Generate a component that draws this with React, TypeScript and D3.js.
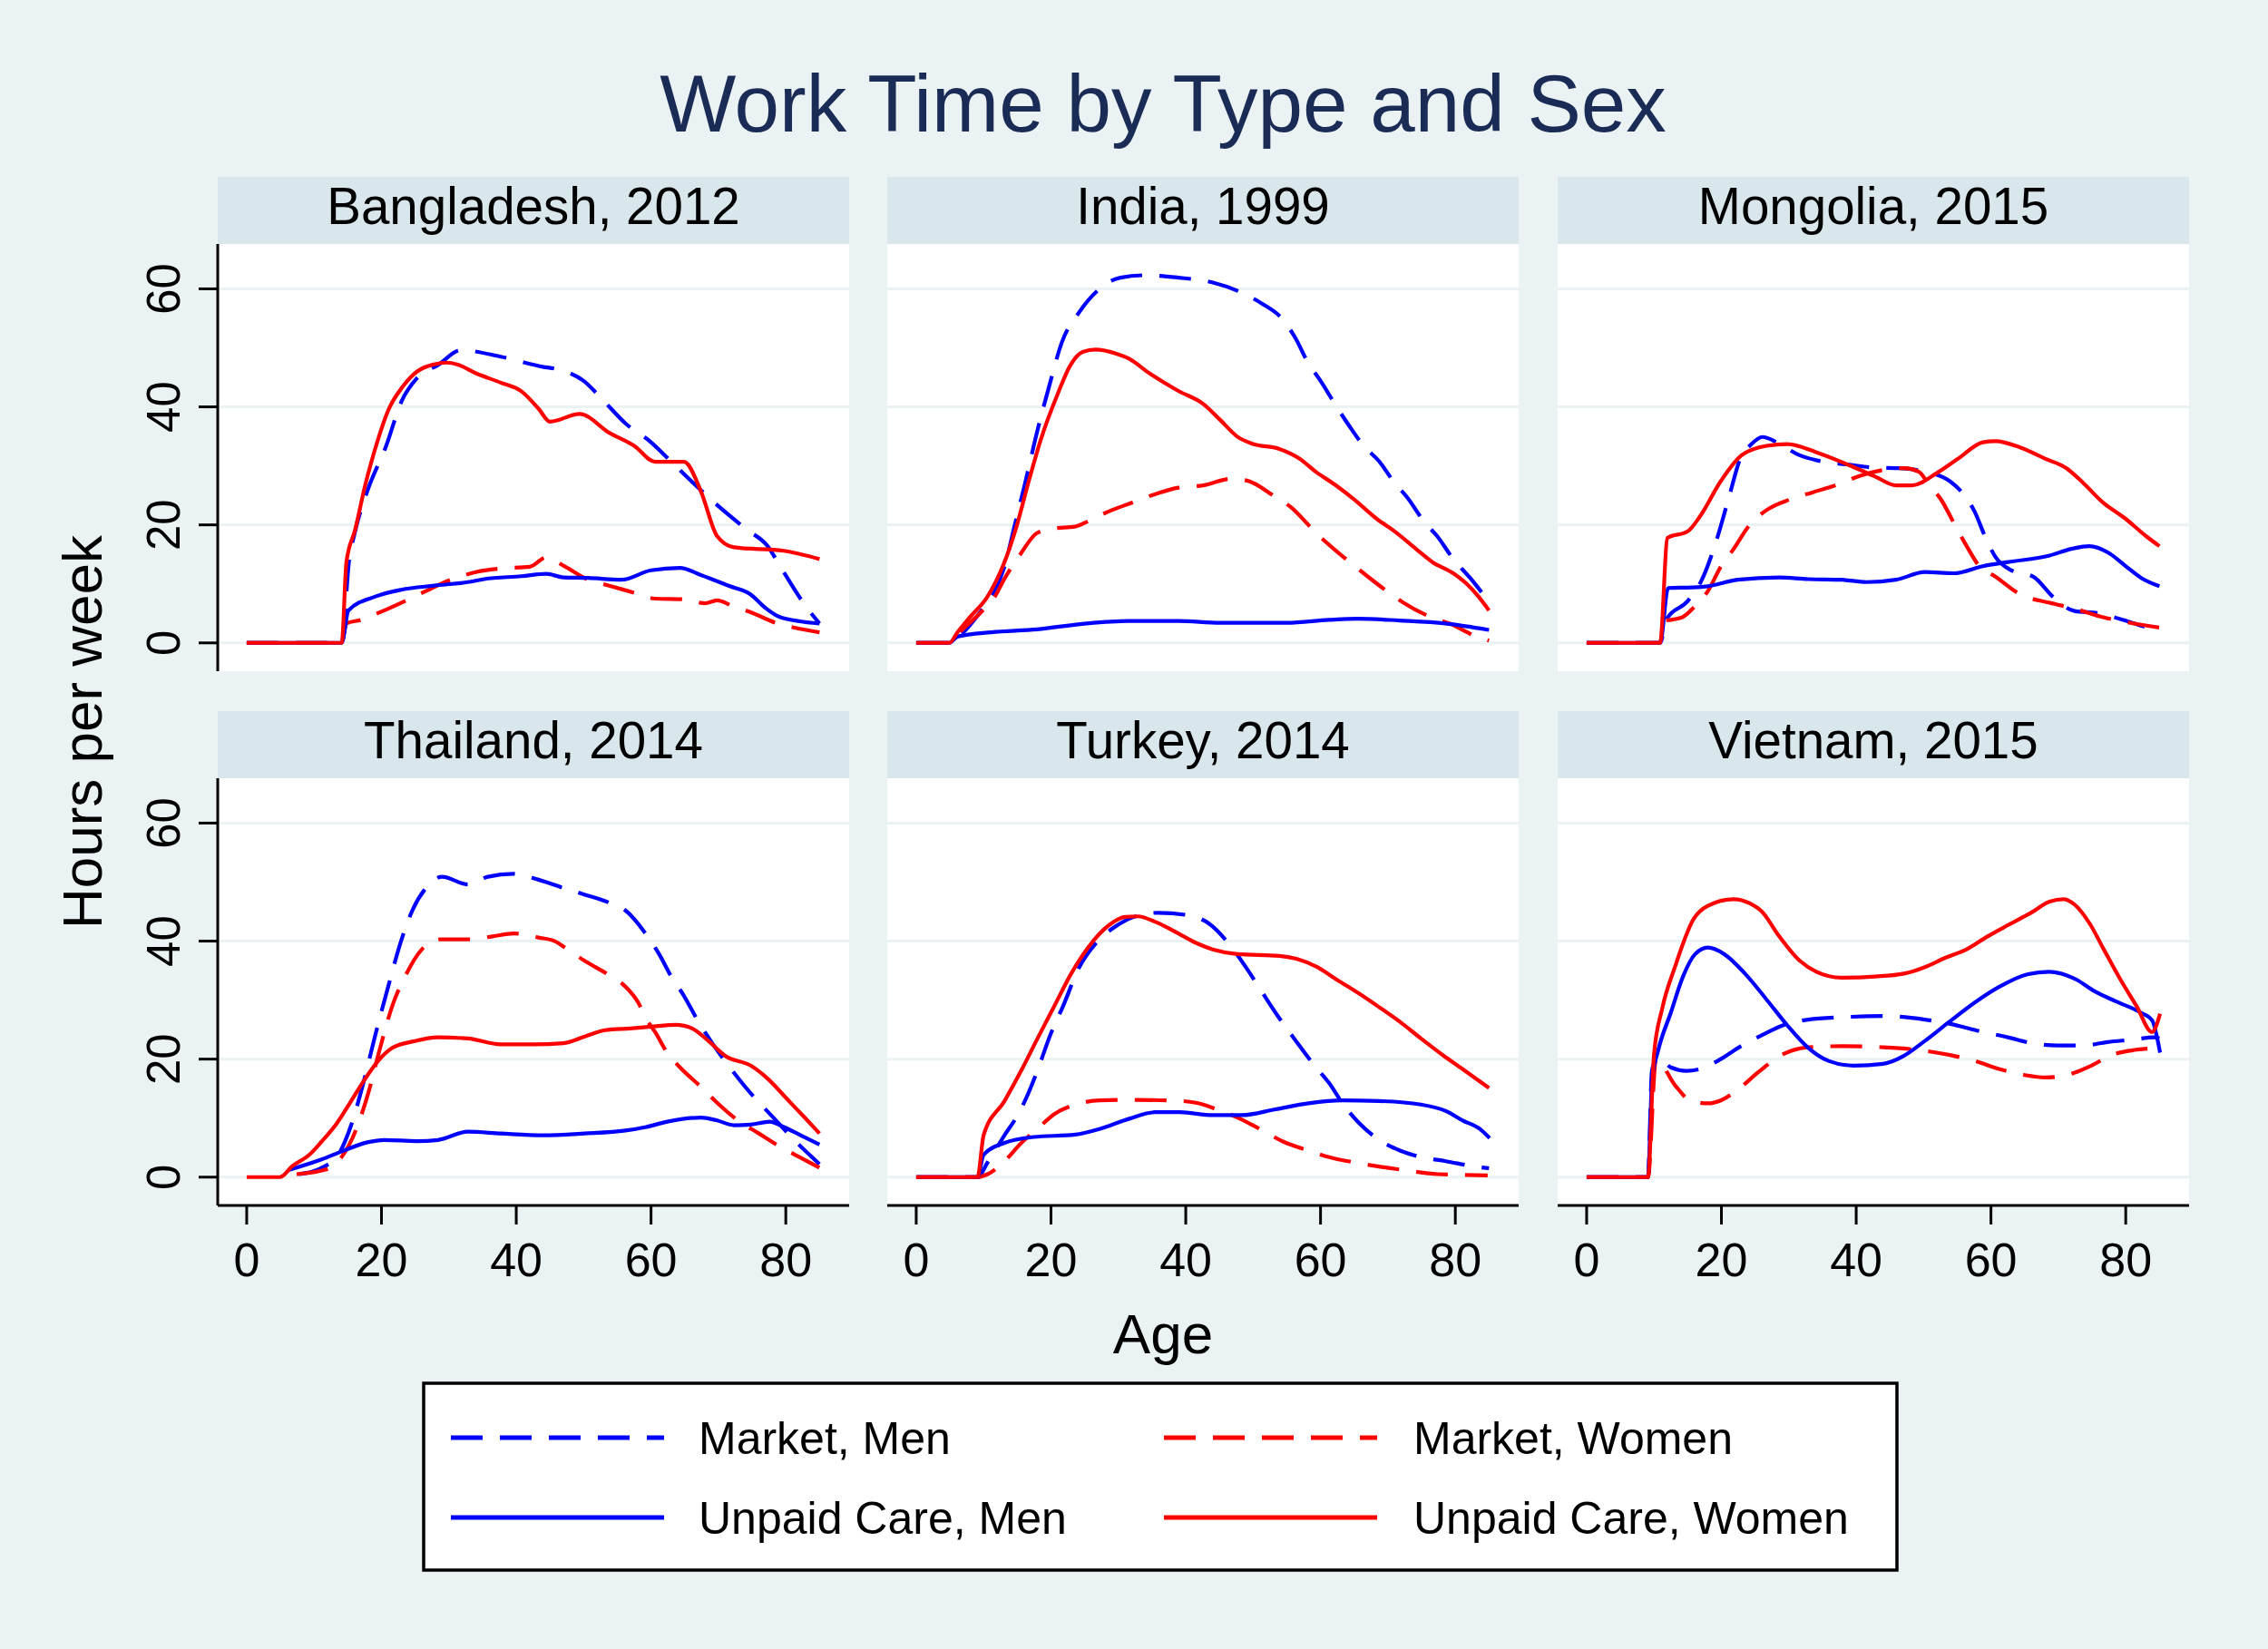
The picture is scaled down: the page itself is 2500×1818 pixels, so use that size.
// Work Time by Type and Sex — small multiples of hours per week by age.
import { useEffect } from "react";
import * as d3 from "d3";

type Pt = [number, number];

// ─── Data (age, hours per week) ───────────────────────────────────────────────

const panelTitles = [
  "Bangladesh, 2012",
  "India, 1999",
  "Mongolia, 2015",
  "Thailand, 2014",
  "Turkey, 2014",
  "Vietnam, 2015",
];

const seriesNames = ["Market, Men", "Market, Women", "Unpaid Care, Men", "Unpaid Care, Women"];

const bgdMarketMen: Pt[] = [[0,0],[14.1,0],[15.2,14],[16,18.5],[17.9,25.7],[20.7,33.4],[23,41],[25.3,44.9],[28.4,47.1],[31.8,49.6],[37.7,48.5],[43.9,46.8],[46.4,46.3],[50,44.4],[52.5,41.6],[56.2,37.2],[60,34],[63,30.7],[68.6,24.6],[74.2,19.2],[77.3,16.4],[79.1,13.1],[83.1,6],[85,3.3]];
const bgdMarketWomen: Pt[] = [[0,0],[14.1,0],[14.8,3.3],[17,3.9],[19.8,5.2],[23.5,7.1],[26.6,8.8],[30.3,10.7],[34,12],[37.7,12.6],[42,12.9],[44.5,14.5],[47,13.1],[50.7,10.7],[53.8,9.7],[57.5,8.5],[60.6,7.5],[64.9,7.4],[68,6.7],[69.8,7.2],[72,6.3],[74.8,5.2],[78.5,3.4],[81.6,2.5],[85,1.8]];
const bgdCareMen: Pt[] = [[0,0],[14.1,0],[15.1,5.5],[19.2,7.9],[22.9,9],[27.8,9.7],[32.8,10.3],[35.2,10.8],[40.8,11.3],[44.5,11.7],[47,11.1],[50.7,11],[55.6,10.7],[60,12.3],[64.3,12.7],[67.4,11.5],[71.7,9.6],[74.8,8.2],[76.9,6],[79.1,4.4],[85,3.3]];
const bgdCareWomen: Pt[] = [[0,0],[14.1,0],[14.8,13.7],[16.1,19.2],[17.6,26.8],[19.2,33.4],[21,39.4],[23.2,43.5],[25.3,46],[27.8,47.2],[29.7,47.5],[31.2,47.2],[34,45.7],[37.7,44.1],[40.8,42.6],[43.3,39.7],[45,37.5],[49.4,38.8],[53.8,35.6],[57.5,33.4],[60.6,30.7],[64.9,30.7],[67.4,25.7],[69.8,18.1],[72.3,16.2],[79.7,15.6],[85,14.2]];

const indMarketMen: Pt[] = [[0,0],[4.9,0],[6.8,1.6],[9.9,5.8],[11.4,8.2],[13,12.6],[14.8,20.8],[16.1,26.8],[17.9,35.6],[19.8,43.8],[21.6,50.9],[24.1,55.9],[27.2,60],[30.3,61.9],[34,62.3],[38.9,61.9],[43.9,61.1],[48.2,59.4],[51.3,57.5],[54.4,54.8],[56.2,51.8],[58.1,47.6],[60,44.4],[62.4,40],[64.3,36.7],[66.4,33.4],[68.6,30.9],[71,27.1],[72.9,24.6],[75.4,20.5],[77.3,18.1],[79.7,14.2],[82.2,11],[84.7,7.4]];
const indMarketWomen: Pt[] = [[0,0],[4.9,0],[6.8,2.2],[9.6,5.2],[11.7,7.9],[13,10.7],[15.5,15.1],[17.9,18.6],[20.4,19.4],[23.5,19.7],[25.3,20.5],[28.4,22.2],[32.1,23.8],[35.2,25.1],[38.9,26.3],[42.6,26.7],[46.7,27.8],[49.1,27.5],[53.2,24.8],[55.6,23],[58.7,19.4],[60.6,17.3],[64,14],[66.4,11.8],[69.8,8.8],[72.3,6.8],[76.3,4.4],[79.1,3.3],[83.1,1.1],[85,0.4]];
const indCareMen: Pt[] = [[0,0],[4.9,0],[6.2,1.1],[11.1,1.8],[17.9,2.3],[25.3,3.3],[31.5,3.7],[38.9,3.7],[45.1,3.4],[55,3.4],[61.2,3.9],[65.5,4.1],[71.7,3.8],[78.5,3.3],[85,2.2]];
const indCareWomen: Pt[] = [[0,0],[4.9,0],[6.2,1.9],[8,4.4],[10.5,7.7],[13,13.4],[14.8,19.4],[16.7,27.4],[18.5,34.5],[21,42.2],[22.9,47.1],[24.7,49.3],[26.6,49.7],[29.7,49],[31.5,48.2],[34.6,45.7],[38.9,42.7],[42.6,40.5],[45.1,37.8],[47.6,35],[50,33.7],[53.8,32.9],[56.9,31.2],[59.3,29],[62.4,26.6],[64.9,24.4],[68.6,20.8],[71,18.9],[74.2,15.9],[76.6,13.7],[79.7,11.8],[81.6,10.1],[83.4,7.9],[85,5.5]];

const mngMarketMen: Pt[] = [[0,0],[10.9,0],[11.9,4.1],[15,7.1],[17.1,10.7],[19.3,17.5],[21.1,24.6],[23,31.8],[24.2,33.4],[26.1,34.9],[28.2,34],[31.6,31.8],[34.7,30.8],[39,30.2],[42.8,29.7],[46.5,29.6],[50.2,29],[53.9,27.4],[55.7,25.5],[57.6,22.2],[59.1,18.1],[60.7,14.5],[63.2,12.2],[66.3,11.2],[69.3,7.7],[72.4,5.4],[76.1,5],[79.9,3.8],[83,2.7],[85,2.3]];
const mngMarketWomen: Pt[] = [[0,0],[10.9,0],[11.6,3.8],[12.5,3.9],[14.3,4.4],[15.9,6],[18,8.8],[19.9,12.9],[21.8,15.9],[24.2,20],[26.7,22.5],[30.4,24.4],[33.5,25.5],[37.2,26.8],[40.3,28.2],[44,29.3],[47.1,29.6],[49.3,29],[50.8,26.8],[52.7,24.1],[54.5,20.3],[56.4,16.4],[58.2,13.1],[60.7,11.2],[64.4,8.2],[68.7,6.8],[72.4,5.8],[76.8,4.3],[81.1,3.3],[85,2.6]];
const mngCareMen: Pt[] = [[0,0],[10.9,0],[12.1,9.3],[15.6,9.4],[18,9.6],[22.4,10.7],[28.6,11.1],[32.9,10.8],[37.8,10.7],[41.5,10.3],[45.9,10.7],[50.2,12],[54.5,11.8],[58.8,13],[62.5,13.7],[68.7,14.8],[71.8,15.9],[74.6,16.4],[77.4,15.3],[79.9,13.1],[82.3,11],[85,9.6]];
const mngCareWomen: Pt[] = [[0,0],[10.9,0],[12,17.8],[15,18.9],[16.8,21.4],[19.9,27.4],[23,31.8],[26.7,33.4],[29.8,33.7],[34.1,32.3],[39,30.1],[42.8,28.2],[45.9,26.7],[48.3,26.7],[52,28.8],[55.1,31.2],[58.8,34],[60.7,34.2],[64.4,33.1],[68.1,31.2],[71.2,29.6],[73.7,27.1],[76.6,23.8],[79.9,21.1],[83,18.1],[85,16.4]];

const thaMarketMen: Pt[] = [[7.7,0.5],[11.7,1.9],[13.6,3.8],[15.5,8.8],[17.3,15.9],[19.2,24.6],[21,32.3],[22.9,40],[24.7,45.5],[26.6,49],[29,50.9],[32.8,49.6],[35.8,50.9],[39.6,51.4],[43.3,50.4],[47,49],[50.1,47.9],[53.8,46.5],[56.2,45.2],[59.3,41.1],[61.2,37.8],[63,34],[64.9,30.7],[66.8,26.8],[69.2,22.5],[71.7,18.6],[74.8,14.2],[77.9,10.4],[81,6.6],[85,2.2]];
const thaMarketWomen: Pt[] = [[7.4,0.5],[12.1,1.4],[14.2,3.6],[16.1,7.7],[17.9,13.7],[19.8,21.9],[21.6,29],[23.5,34],[26,38.6],[28.8,40.3],[32.8,40.3],[36.5,40.8],[39.6,41.3],[43.3,40.6],[45.7,40],[47.6,38.6],[50.1,36.7],[53.8,34.2],[56.2,32.3],[58.1,29.6],[59.3,26.8],[60.6,24.6],[62.4,21.1],[64.3,18.6],[67.4,15.3],[69.8,12.6],[72.9,9.6],[76,7.4],[79.1,5.2],[82.2,3.3],[85,1.6]];
const thaCareMen: Pt[] = [[6.2,1.2],[11.1,3],[14.2,4.4],[17.9,5.9],[20.4,6.3],[25.3,6.1],[28.4,6.3],[32.8,7.7],[37.7,7.4],[43.9,7.1],[50.1,7.4],[56.2,7.9],[59.3,8.5],[62.4,9.4],[67.4,10.1],[69.8,9.6],[72.3,8.8],[74.8,8.9],[77.6,9.4],[79.7,8.5],[82.2,7.1],[85,5.5]];
const thaCareWomen: Pt[] = [[0,0],[4.9,0],[6.8,1.9],[9.3,3.8],[11.1,6],[13.3,9],[15.5,12.9],[17.6,16.7],[19.5,19.7],[21.6,21.9],[24.7,23],[28.4,23.7],[32.8,23.5],[37.7,22.5],[42.6,22.5],[47,22.7],[50.1,23.8],[53.2,24.9],[56.9,25.2],[60,25.5],[63.7,25.8],[66.1,25.2],[68.6,23],[71.1,20.5],[74.8,18.9],[77.3,16.7],[80.3,13.1],[82.8,10.1],[85,7.4]];

const turMarketMen: Pt[] = [[0,0],[9.1,0],[10.6,2.5],[13.1,7.1],[15,10.4],[16.2,13.1],[18,18.1],[19.9,24.1],[21.8,29],[24.2,35.6],[26.7,39.7],[29.2,42.2],[32.3,44.1],[35.9,44.8],[40.3,44.4],[43.4,43],[46.5,39.4],[48.9,35.6],[50.8,32.3],[53.3,27.9],[56.4,23],[59.1,18.9],[61.3,15.9],[63.2,12.6],[65.6,9.3],[68.7,6.3],[71.8,4.5],[74.9,3.4],[78.6,2.7],[82.9,1.8],[85,1.5]];
const turMarketWomen: Pt[] = [[0,0],[9.1,0],[10.6,0.5],[13.1,2.7],[15.6,5.8],[18,8.2],[20.5,10.7],[23.6,12.3],[27.3,13],[31.6,13.1],[37.8,13],[41.5,12.6],[44.6,11.5],[47.7,10.1],[51.4,7.9],[54.5,6],[58.2,4.5],[61.3,3.4],[65,2.5],[68.7,1.8],[72.4,1.2],[77.4,0.5],[84.8,0.3]];
const turCareMen: Pt[] = [[0,0],[9.1,0],[10,3.8],[13.1,5.8],[17.4,6.8],[23.6,7.2],[27.3,8.2],[31.6,9.9],[35.4,11],[39.1,11],[44,10.5],[48.3,10.5],[53.3,11.5],[58.2,12.5],[63.2,13],[68.7,12.9],[74.9,12.3],[78.6,11.2],[81.1,9.6],[83.6,8.2],[85.1,6.6]];
const turCareWomen: Pt[] = [[0,0],[9.1,0],[10,7.1],[13.1,12.9],[15.6,18.1],[18,23.5],[20.5,29],[23,34.5],[25.5,38.9],[28.6,42.7],[31,44.1],[32.9,44.2],[35.4,43.3],[38.4,41.6],[41.5,39.7],[44,38.6],[47.7,37.8],[53.9,37.5],[56.4,37],[59.5,35.6],[62.5,33.4],[65.6,31.2],[68.7,28.8],[71.8,26.3],[74.9,23.5],[78,20.8],[81.1,18.3],[85,15.1]];

const vnmMarketMen: Pt[] = [[0,0],[9.1,0],[9.7,18.1],[10.6,20.3],[12.5,18.6],[14.8,18],[17.3,18.5],[19.9,20],[22.9,22.2],[26.1,24.1],[29.1,25.7],[32.9,26.7],[37.8,27.1],[44,27.3],[50.2,26.7],[53.8,26],[58.8,24.6],[62.5,23.7],[66.1,22.7],[69.9,22.3],[73.6,22.3],[77.3,22.9],[81,23.3],[84.2,23.7],[85,23.5]];
const vnmMarketWomen: Pt[] = [[0,0],[9.1,0],[10.3,20],[13.1,15.6],[15.5,12.9],[18,12.5],[19.9,13],[22.4,14.8],[25.5,17.8],[29.1,20.8],[32.9,22],[37.8,22.2],[44,22],[48.8,21.6],[53.9,20.7],[57.6,19.7],[61.3,18.3],[65,17.3],[68.1,16.9],[71.2,17.3],[74.9,18.9],[77.9,20.7],[81.6,21.6],[84.5,22],[85,22.4]];
const vnmCareMen: Pt[] = [[0,0],[9.1,0],[9.7,16.4],[10.6,21.4],[12.5,27.9],[14.3,34],[16.1,37.8],[18,38.9],[20.4,37.8],[23.5,34.5],[26.7,30.1],[29.8,25.7],[32.9,21.9],[35.9,19.7],[39.6,18.9],[44,19.2],[47,20.5],[50.1,23],[53.8,26.3],[57.6,29.6],[61.3,32.3],[65.5,34.4],[68.6,34.8],[72.3,33.7],[75.4,31.5],[78.5,29.8],[82.2,27.9],[83.9,26.6],[85.1,21.1]];
const vnmCareWomen: Pt[] = [[0,0],[9.1,0],[10,20.8],[11.2,28.5],[13.1,35.6],[15.9,43.8],[18,46],[21.8,47.1],[24.2,46.4],[26.1,44.9],[28.4,41.1],[31.6,36.7],[34.1,34.8],[37.8,33.8],[42.8,34],[47.1,34.5],[50.2,35.6],[53.3,37.2],[56.4,38.6],[59.5,40.8],[62.5,42.7],[66.1,44.9],[68.7,46.7],[70.8,47.1],[72.3,46.3],[74.8,42.7],[76.6,38.9],[79.1,33.7],[81.6,29],[83.9,24.6],[85.1,27.7]];

const panelSeries: Pt[][][] = [
  [bgdMarketMen, bgdMarketWomen, bgdCareMen, bgdCareWomen],
  [indMarketMen, indMarketWomen, indCareMen, indCareWomen],
  [mngMarketMen, mngMarketWomen, mngCareMen, mngCareWomen],
  [thaMarketMen, thaMarketWomen, thaCareMen, thaCareWomen],
  [turMarketMen, turMarketWomen, turCareMen, turCareWomen],
  [vnmMarketMen, vnmMarketWomen, vnmCareMen, vnmCareWomen],
];

const xTicks = [0, 20, 40, 60, 80];
const yTicks = [0, 20, 40, 60];

// ─── Layout / style ───────────────────────────────────────────────────────────

const W = 2500;
const H = 1818;
const FONT = "'Liberation Sans', Arial, Helvetica, sans-serif";
const BG = "#eaf2f3";
const STRIP = "#d9e6eb";
const BLUE = "#0000ff";
const RED = "#ff0000";
const DASH = "35,19";

const COL_X = [240, 978, 1717];
const PANEL_W = 696;
const ROW_STRIP = [195, 784];
const ROW_TOP = [269, 858];
const ROW_BOTTOM = [740, 1329];

const seriesStyle = [
  { color: BLUE, dash: DASH },
  { color: RED, dash: DASH },
  { color: BLUE, dash: null },
  { color: RED, dash: null },
];

export default function App() {
  useEffect(() => {
    document.body.style.margin = "0";
  }, []);

  const panels = panelTitles.map((title, i) => {
    const col = i % 3;
    const row = Math.floor(i / 3);
    const x0 = COL_X[col];
    const xScale = d3.scaleLinear().domain([-4.3, 89.4]).range([x0, x0 + PANEL_W]);
    const yScale = d3.scaleLinear().domain([-4.8, 67.6]).range([ROW_BOTTOM[row], ROW_TOP[row]]);
    const line = d3
      .line<Pt>()
      .x((d) => xScale(d[0]))
      .y((d) => yScale(d[1]))
      .curve(d3.curveMonotoneX);

    return (
      <g key={title}>
        {/* strip */}
        <rect x={x0} y={ROW_STRIP[row]} width={PANEL_W} height={ROW_TOP[row] - ROW_STRIP[row]} fill={STRIP} />
        <text
          x={x0 + PANEL_W / 2}
          y={ROW_STRIP[row] + 52}
          textAnchor="middle"
          fontSize={56.5}
          fill="#000"
        >
          {title}
        </text>

        {/* plot region */}
        <rect x={x0} y={ROW_TOP[row]} width={PANEL_W} height={ROW_BOTTOM[row] - ROW_TOP[row]} fill="#fff" />
        {yTicks.map((t) => (
          <line
            key={t}
            x1={x0}
            x2={x0 + PANEL_W}
            y1={yScale(t)}
            y2={yScale(t)}
            stroke={BG}
            strokeWidth={3}
          />
        ))}

        {/* series */}
        {panelSeries[i].map((pts, s) => (
          <path
            key={s}
            d={line(pts) ?? ""}
            fill="none"
            stroke={seriesStyle[s].color}
            strokeWidth={4.2}
            strokeDasharray={seriesStyle[s].dash ?? undefined}
            strokeLinejoin="round"
          />
        ))}

        {/* y axis on first column */}
        {col === 0 && (
          <g>
            <line x1={x0} x2={x0} y1={ROW_TOP[row]} y2={ROW_BOTTOM[row]} stroke="#000" strokeWidth={3} />
            {yTicks.map((t) => (
              <g key={t}>
                <line x1={x0 - 21} x2={x0} y1={yScale(t)} y2={yScale(t)} stroke="#000" strokeWidth={3} />
                <text
                  transform={`translate(${x0 - 42},${yScale(t)}) rotate(-90)`}
                  textAnchor="middle"
                  fontSize={51}
                  fill="#000"
                >
                  {t}
                </text>
              </g>
            ))}
          </g>
        )}

        {/* x axis on bottom row */}
        {row === 1 && (
          <g>
            <line
              x1={x0}
              x2={x0 + PANEL_W}
              y1={ROW_BOTTOM[row]}
              y2={ROW_BOTTOM[row]}
              stroke="#000"
              strokeWidth={3}
            />
            {xTicks.map((t) => (
              <g key={t}>
                <line
                  x1={xScale(t)}
                  x2={xScale(t)}
                  y1={ROW_BOTTOM[row]}
                  y2={ROW_BOTTOM[row] + 21}
                  stroke="#000"
                  strokeWidth={3}
                />
                <text x={xScale(t)} y={1407} textAnchor="middle" fontSize={52} fill="#000">
                  {t}
                </text>
              </g>
            ))}
          </g>
        )}
      </g>
    );
  });

  // legend: filled row-wise, two columns
  const legendLineX = [[497, 732], [1283, 1518]];
  const legendTextX = [770, 1558];
  const legendRowY = [1585, 1673];

  return (
    <svg width={W} height={H} style={{ display: "block" }} fontFamily={FONT}>
      <rect x={0} y={0} width={W} height={H} fill={BG} />

      <text x={1282} y={145} textAnchor="middle" fontSize={89} fill="#1a2b55">
        Work Time by Type and Sex
      </text>

      {panels}

      <text transform="translate(112,807) rotate(-90)" textAnchor="middle" fontSize={62} fill="#000">
        Hours per week
      </text>
      <text x={1282} y={1492} textAnchor="middle" fontSize={62} fill="#000">
        Age
      </text>

      <rect x={467} y={1525} width={1624} height={206} fill="#fff" stroke="#000" strokeWidth={3.5} />
      {seriesNames.map((name, s) => {
        const c = s % 2;
        const r = Math.floor(s / 2);
        return (
          <g key={name}>
            <line
              x1={legendLineX[c][0]}
              x2={legendLineX[c][1]}
              y1={legendRowY[r]}
              y2={legendRowY[r]}
              stroke={seriesStyle[s].color}
              strokeWidth={5}
              strokeDasharray={seriesStyle[s].dash ?? undefined}
            />
            <text x={legendTextX[c]} y={legendRowY[r] + 18} fontSize={50} fill="#000">
              {name}
            </text>
          </g>
        );
      })}
    </svg>
  );
}
